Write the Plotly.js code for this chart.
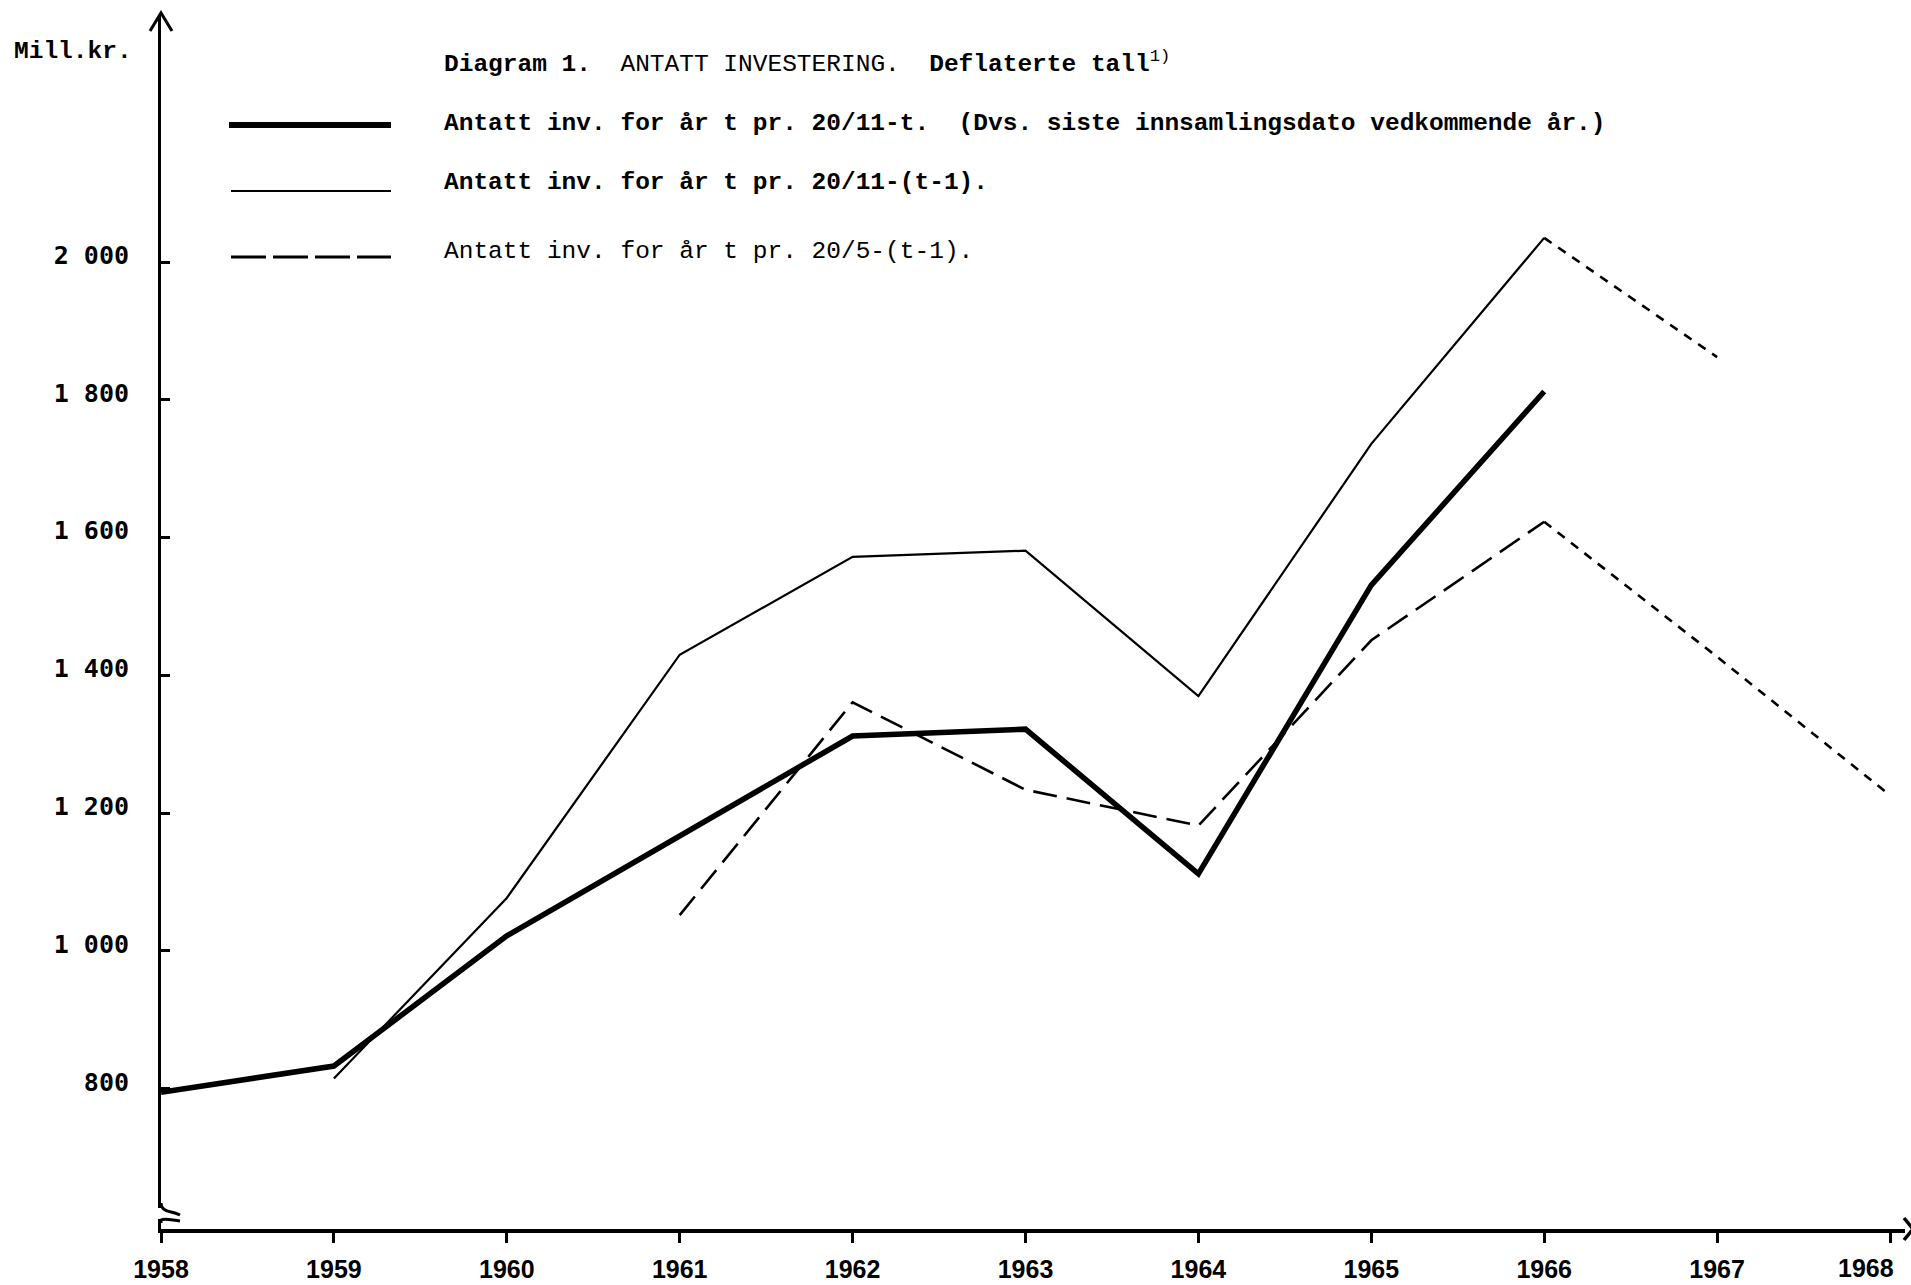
<!DOCTYPE html>
<html>
<head>
<meta charset="utf-8">
<script src="https://cdn.plot.ly/plotly-3.0.1.min.js"></script>
<style>html,body{margin:0;padding:0;background:#fff;}#chart{width:1911px;height:1285px;}</style>
</head>
<body>
<div id="chart"></div>
<script>
// ---- Data ----
const years = [1958, 1959, 1960, 1961, 1962, 1963, 1964, 1965, 1966, 1967, 1968];
const xTickLabels = ["1958", "1959", "1960", "1961", "1962", "1963", "1964", "1965", "1966", "1967", "1968"];
const yTickVals = [800, 1000, 1200, 1400, 1600, 1800, 2000];
const yTickText = ["800", "1 000", "1 200", "1 400", "1 600", "1 800", "2 000"];

// Antatt inv. for år t pr. 20/11-t (thick)
const yearsFinal = [1958, 1959, 1960, 1961, 1962, 1963, 1964, 1965, 1966];
const invFinal = [795, 833, 1022, 1167, 1312, 1322, 1112, 1531, 1812];
// Antatt inv. for år t pr. 20/11-(t-1) (thin)
const yearsNovPrev = [1959, 1960, 1961, 1962, 1963, 1964, 1965, 1966];
const invNovPrev = [815, 1077, 1430, 1572, 1581, 1370, 1736, 2035];
// Antatt inv. for år t pr. 20/5-(t-1) (dashed)
const yearsMayPrev = [1961, 1962, 1963, 1964, 1965, 1966];
const invMayPrev = [1052, 1361, 1234, 1182, 1451, 1623];
// dotted continuations
const yearsNovExt = [1966, 1967];
const invNovExt = [2035, 1862];
const yearsMayExt = [1966, 1967, 1968];
const invMayExt = [1623, 1427, 1226];

const yUnit = "Mill.kr.";
const chartTitle = "<b>Diagram 1.</b>\u00a0\u00a0ANTATT INVESTERING.\u00a0\u00a0<b>Deflaterte tall</b><sup>1)</sup>";
const legendLabels = [
  "<b>Antatt inv. for år t pr. 20/11-t.\u00a0\u00a0(Dvs. siste innsamlingsdato vedkommende år.)</b>",
  "<b>Antatt inv. for år t pr. 20/11-(t-1).</b>",
  "Antatt inv. for år t pr. 20/5-(t-1)."
];

// ---- Traces ----
const traces = [
  {x: yearsNovPrev, y: invNovPrev, mode: "lines", line: {color: "#000", width: 2.2}},
  {x: yearsMayPrev, y: invMayPrev, mode: "lines", line: {color: "#000", width: 2.6, dash: "24px,10px"}},
  {x: yearsNovExt, y: invNovExt, mode: "lines", line: {color: "#000", width: 2.6, dash: "9px,8px"}},
  {x: yearsMayExt, y: invMayExt, mode: "lines", line: {color: "#000", width: 2.6, dash: "9px,8px"}},
  {x: yearsFinal, y: invFinal, mode: "lines", line: {color: "#000", width: 5.5}}
];
traces.forEach(t => { t.showlegend = false; t.hoverinfo = "skip"; });

const textFont = {family: "Liberation Mono, DejaVu Sans Mono, monospace", size: 24.5, color: "#000"};
const tickFont = {family: "Liberation Sans, Arial, sans-serif", size: 25, color: "#000", weight: "bold"};

// plot area: left 161, right 1905, top 15, bottom 1229 (pixels)
const L = 161, R = 1905, T = 15, B = 1229;
const px = v => (v - L) / (R - L);
const py = v => (B - v) / (B - T);

const lastIdx = years.length - 1;
// last x tick label sits left of its tick (as in the reference) -> drawn as annotation
const xTickTextAxis = xTickLabels.map((t, i) => i === lastIdx ? "" : t);

const annotations = [
  {text: yUnit, x: px(12), y: py(51), xanchor: "left", yanchor: "middle", font: Object.assign({}, textFont, {weight: "bold"})},
  {text: chartTitle, x: px(442), y: py(63), xanchor: "left", yanchor: "middle", font: textFont},
  {text: legendLabels[0], x: px(442), y: py(123), xanchor: "left", yanchor: "middle", font: textFont},
  {text: legendLabels[1], x: px(442), y: py(183), xanchor: "left", yanchor: "middle", font: textFont},
  {text: legendLabels[2], x: px(442), y: py(251), xanchor: "left", yanchor: "middle", font: textFont}
].map(a => Object.assign({xref: "paper", yref: "paper", showarrow: false}, a));
annotations.push({text: xTickLabels[lastIdx], xref: "x", yref: "paper", x: years[lastIdx], xshift: 6,
  y: py(1268), xanchor: "right", yanchor: "middle", showarrow: false, font: tickFont});

const shapes = [
  // legend samples
  {type: "line", xref: "paper", yref: "paper", x0: px(229), x1: px(391), y0: py(125), y1: py(125), line: {color: "#000", width: 6}},
  {type: "line", xref: "paper", yref: "paper", x0: px(231), x1: px(391), y0: py(191), y1: py(191), line: {color: "#000", width: 2.2}},
  {type: "line", xref: "paper", yref: "paper", x0: px(231), x1: px(391), y0: py(257), y1: py(257), line: {color: "#000", width: 3, dash: "35px,7px"}},
  // y-axis arrow head
  {type: "path", xref: "paper", yref: "paper", xsizemode: "pixel", ysizemode: "pixel", xanchor: 0, yanchor: 1,
   path: "M -11 -16 L 0 2 L 11 -16", line: {color: "#000", width: 3}},
  // x-axis arrow head
  {type: "path", xref: "paper", yref: "paper", xsizemode: "pixel", ysizemode: "pixel", xanchor: 1, yanchor: 0,
   path: "M -1 11 L 8 0 L -1 -11", line: {color: "#000", width: 3.5}},
  // axis break
  {type: "line", xref: "paper", yref: "paper", xsizemode: "pixel", ysizemode: "pixel", xanchor: 0, yanchor: 0,
   x0: 0, x1: 0, y0: 10, y1: 21, line: {color: "#fff", width: 6}},
  {type: "path", xref: "paper", yref: "paper", xsizemode: "pixel", ysizemode: "pixel", xanchor: 0, yanchor: 0,
   path: "M 0 26 C 0 20, 4 18, 10 17 C 15 16, 17 15, 19 14", line: {color: "#000", width: 3}},
  {type: "path", xref: "paper", yref: "paper", xsizemode: "pixel", ysizemode: "pixel", xanchor: 0, yanchor: 0,
   path: "M 0 6 L 0 9 C 4 11, 10 9, 19 8", line: {color: "#000", width: 3}}
];

const layout = {
  width: 1911, height: 1285,
  margin: {l: L, r: 1911 - R, t: T, b: 1285 - B, pad: 0},
  paper_bgcolor: "#fff", plot_bgcolor: "#fff",
  showlegend: false,
  xaxis: {
    range: [1958, 1958 + (R - L) / 172.9],
    tickmode: "array", tickvals: years, ticktext: xTickTextAxis,
    showline: true, linecolor: "#000", linewidth: 4,
    ticks: "outside", ticklen: 10, tickwidth: 3, tickcolor: "#000",
    ticklabelstandoff: 5,
    showgrid: false, zeroline: false, tickfont: tickFont, fixedrange: true
  },
  yaxis: {
    range: [596.5, 2358.5],
    tickmode: "array", tickvals: yTickVals, ticktext: yTickText,
    showline: true, linecolor: "#000", linewidth: 3,
    ticks: "inside", ticklen: 9, tickwidth: 3, tickcolor: "#000",
    ticklabelstandoff: 24, ticklabelshift: -7,
    showgrid: false, zeroline: false,
    tickfont: {family: "DejaVu Sans Mono, Liberation Mono, monospace", size: 25, color: "#000", weight: "bold"},
    fixedrange: true
  },
  annotations: annotations,
  shapes: shapes
};

Plotly.newPlot("chart", traces, layout, {displayModeBar: false, staticPlot: true});
</script>
</body>
</html>
